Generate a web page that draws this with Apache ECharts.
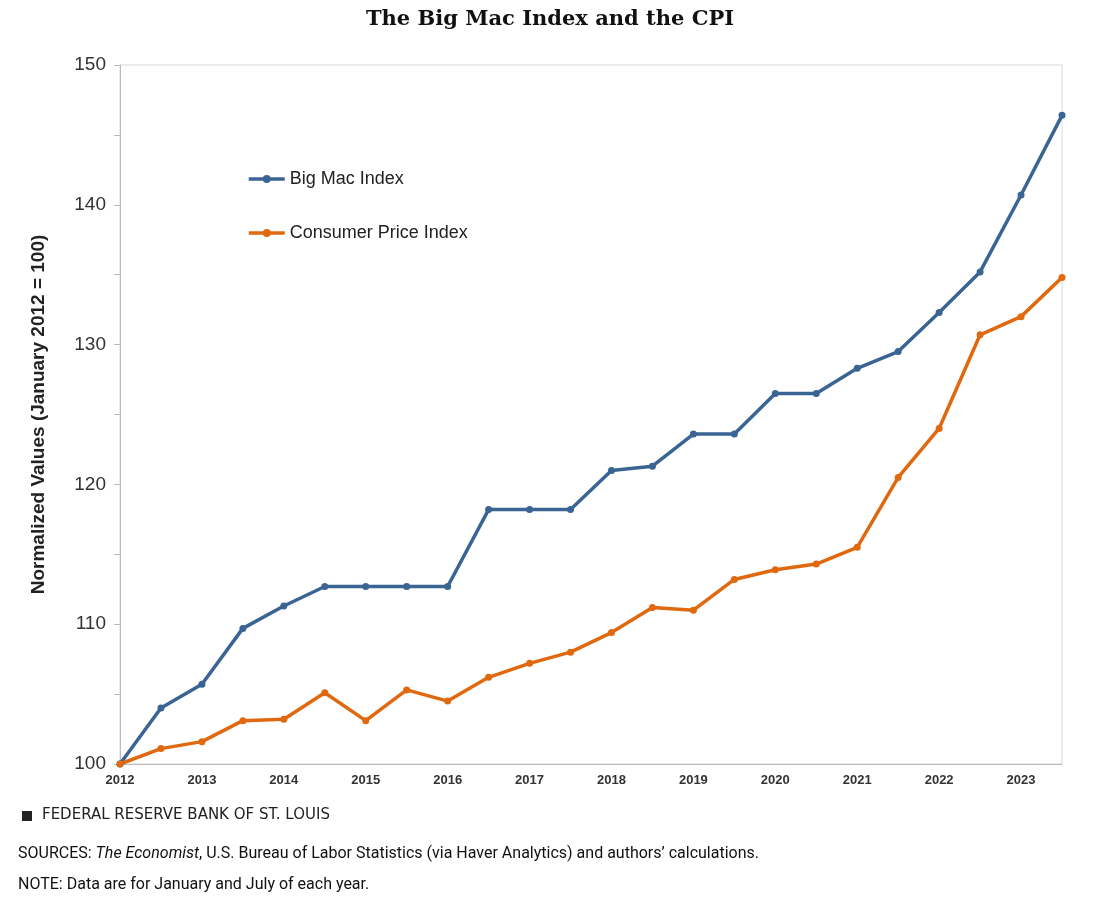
<!DOCTYPE html><html><head><meta charset="utf-8"><script src="https://cdn.jsdelivr.net/npm/echarts@6/dist/echarts.min.js"></script></head><body style="margin:0;background:#fff"><div id="c" style="width:1100px;height:906px"></div><script>
const xs=[2012,2012.5,2013,2013.5,2014,2014.5,2015,2015.5,2016,2016.5,2017,2017.5,2018,2018.5,2019,2019.5,2020,2020.5,2021,2021.5,2022,2022.5,2023,2023.5];
const bigMac=[100,104.0,105.7,109.7,111.3,112.7,112.7,112.7,112.7,118.2,118.2,118.2,121.0,121.3,123.6,123.6,126.5,126.5,128.3,129.5,132.3,135.2,140.7,146.4];
const cpi=[100,101.1,101.6,103.1,103.2,105.1,103.1,105.3,104.5,106.2,107.2,108.0,109.4,111.2,111.0,113.2,113.9,114.3,115.5,120.5,124.0,130.7,132.0,134.8];
const c=echarts.init(document.getElementById('c'));
const mk=(n,d,col)=>({name:n,type:'line',data:xs.map((x,i)=>[x,d[i]]),symbol:'circle',symbolSize:7,lineStyle:{width:3.5,color:col},itemStyle:{color:col},z:3});
c.setOption({animation:false,
title:{text:'The Big Mac Index and the CPI',left:'center',top:4,textStyle:{fontFamily:'DejaVu Serif',fontWeight:'bold',fontSize:21,color:'#111'}},
grid:{left:120,right:38,top:65,bottom:142,show:true,borderColor:'#d9d9d9',borderWidth:1},
legend:{left:242,top:165,orient:'vertical',itemGap:36,itemWidth:36,itemHeight:10,lineStyle:{width:3.5},textStyle:{fontSize:18,color:'#222',fontFamily:'Liberation Sans'},data:['Big Mac Index','Consumer Price Index']},
xAxis:{type:'value',min:2012,max:2023.5,interval:1,axisLine:{show:true,lineStyle:{color:'#bbb'}},axisTick:{show:false},splitLine:{show:false},axisLabel:{showMaxLabel:false,formatter:v=>String(v),fontSize:13,fontWeight:'bold',color:'#333',margin:10}},
yAxis:{type:'value',min:100,max:150,interval:10,name:'Normalized Values (January 2012 = 100)',nameLocation:'middle',nameGap:72,nameTextStyle:{fontSize:19,fontWeight:'bold',color:'#222'},axisLine:{show:true,lineStyle:{color:'#bbb'}},axisTick:{show:true,length:6,lineStyle:{color:'#bbb'}},minorTick:{show:true,splitNumber:2,length:6,lineStyle:{color:'#bbb'}},splitLine:{show:false},axisLabel:{fontSize:19,color:'#333',margin:14}},
series:[mk('Big Mac Index',bigMac,'#3a6494'),mk('Consumer Price Index',cpi,'#e0690f')],
graphic:[
{type:'rect',left:22,top:811,shape:{width:10,height:10},style:{fill:'#222'}},
{type:'text',left:42,top:808,style:{text:'FEDERAL RESERVE BANK OF ST. LOUIS',fontSize:15,fill:'#222',fontFamily:'DejaVu Sans',letterSpacing:1.6}},
{type:'text',left:18,top:846,style:{rich:{i:{fontStyle:'italic',fontSize:16,fill:'#111',fontFamily:'Roboto'},n:{fontSize:16,fill:'#111',fontFamily:'Roboto'}},text:'{n|SOURCES: }{i|The Economist}{n|, U.S. Bureau of Labor Statistics (via Haver Analytics) and authors’ calculations.}'}},
{type:'text',left:18,top:877,style:{text:'NOTE: Data are for January and July of each year.',fontSize:16,fill:'#111',fontFamily:'Roboto'}}
]});
</script></body></html>
